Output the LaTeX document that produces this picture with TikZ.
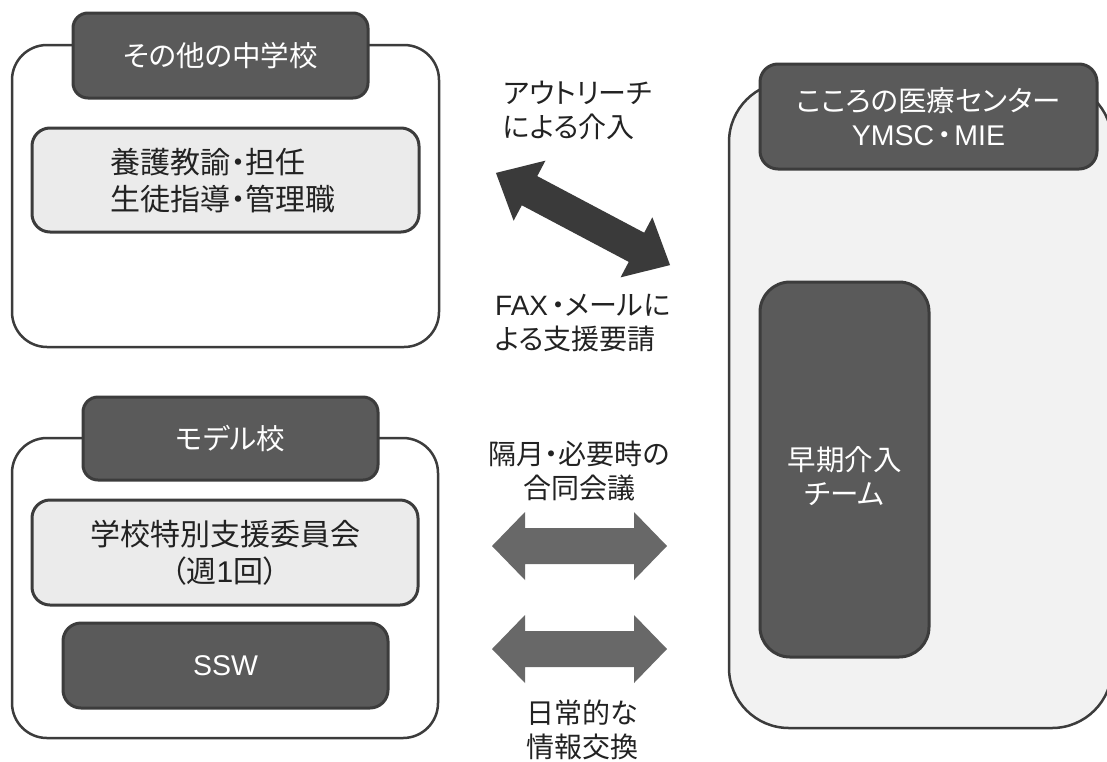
\documentclass[tikz,border=0pt]{standalone}
\usepackage{fontspec}
\newfontfamily\jp{Noto Sans CJK JP}[RawFeature={+palt}]
\newfontfamily\lat{Liberation Sans}
\definecolor{darkfill}{HTML}{5A5A5A}
\definecolor{edge}{HTML}{3C3C3C}
\definecolor{lightfill}{HTML}{EBEBEB}
\definecolor{bigfill}{HTML}{F2F2F2}
\definecolor{arrowdark}{HTML}{3A3A3A}
\definecolor{arrowmid}{HTML}{686868}
\definecolor{ink}{HTML}{222222}
\begin{document}
\begin{tikzpicture}[x=1pt,y=-1pt,
  box/.style={draw=edge, line width=2.5pt, rounded corners=#1, inner sep=0pt, outer sep=0pt, align=center},
  outerbox/.style={box=35pt, fill=white},
  bigbox/.style={box=60pt, fill=bigfill},
  darkbox/.style={box=#1, fill=darkfill, text=white, line width=3pt,
     font=\jp\fontsize{28.5}{34}\selectfont},
  lightbox/.style={box=18pt, fill=lightfill, text=ink, line width=3pt,
     font=\jp\fontsize{30}{37}\selectfont},
  label/.style={text=ink, inner sep=0pt, font=\jp\fontsize{28}{34}\selectfont},
  blockdark/.style={fill=arrowdark},
  blockmid/.style={fill=arrowmid}]
\path[use as bounding box, clip] (0,0) rectangle (1107,761);
\fill[white] (0,0) rectangle (1107,761);

% left upper group
\node[outerbox, minimum width=427pt, minimum height=302pt] (schoolA) at (225.5,196) {};
\node[darkbox=15pt, minimum width=295pt, minimum height=85pt] (headA) at (220.5,55.5) {その他の中学校};
\node[lightbox, minimum width=387pt, minimum height=104pt] (staffA) at (225.5,180) {};
\node[lightbox, draw=none, fill=none, align=left] (staffAtext) at (223,181) {養護教諭・担任\\生徒指導・管理職};

% left lower group
\node[outerbox, minimum width=426pt, minimum height=300pt] (schoolB) at (225,588) {};
\node[darkbox=15pt, minimum width=295pt, minimum height=83pt] (headB) at (230.5,438.5) {モデル校};
\node[lightbox, minimum width=386pt, minimum height=105pt] (committee) at (225,552.5) {学校特別支援委員会\\（週{\lat 1}回）};
\node[darkbox=18pt, minimum width=325pt, minimum height=85pt] (ssw) at (225.5,665.5) {\lat SSW};

% right group
\node[bigbox, minimum width=383pt, minimum height=646pt] (center) at (920.5,405) {};
\node[darkbox=18pt, minimum width=337pt, minimum height=105pt] (headC) at (928.5,116.5) {こころの医療センター\\{\lat YMSC}\kern3pt・\kern3pt{\lat MIE}};
\node[darkbox=30pt, minimum width=169pt, minimum height=375pt] (team) at (844.5,469.5) {};
\node[darkbox=0pt, draw=none, fill=none] (teamtext) at (844.5,476) {早期介入\\チーム};

% diagonal block arrow
\begin{scope}[shift={(583,219)}, rotate=-27.9]
\fill[blockdark] (-98.5,0) -- (-60.5,34) -- (-60.5,16.5) -- (60.5,16.5) -- (60.5,34)
  -- (98.5,0) -- (60.5,-34) -- (60.5,-16.5) -- (-60.5,-16.5) -- (-60.5,-34) -- cycle;
\end{scope}

% horizontal block arrows
\begin{scope}[shift={(579.5,546)}]
\fill[blockmid] (-87.5,0) -- (-54.5,-34) -- (-54.5,-18) -- (54.5,-18) -- (54.5,-34)
  -- (87.5,0) -- (54.5,34) -- (54.5,18) -- (-54.5,18) -- (-54.5,34) -- cycle;
\end{scope}
\begin{scope}[shift={(579.5,649)}]
\fill[blockmid] (-87.5,0) -- (-54.5,-34) -- (-54.5,-18) -- (54.5,-18) -- (54.5,-34)
  -- (87.5,0) -- (54.5,34) -- (54.5,18) -- (-54.5,18) -- (-54.5,34) -- cycle;
\end{scope}

% labels
\node[label, align=left, anchor=west] (outreach) at (503,110) {アウトリーチ\\による介入};
\node[label, align=left, anchor=west] (request) at (495,323) {{\lat FAX}\kern3pt・メールに\\よる支援要請};
\node[label, align=center] (meeting) at (579,471) {隔月・必要時の\\合同会議};
\node[label, align=center] (daily) at (582,730) {日常的な\\情報交換};
\end{tikzpicture}
\end{document}
